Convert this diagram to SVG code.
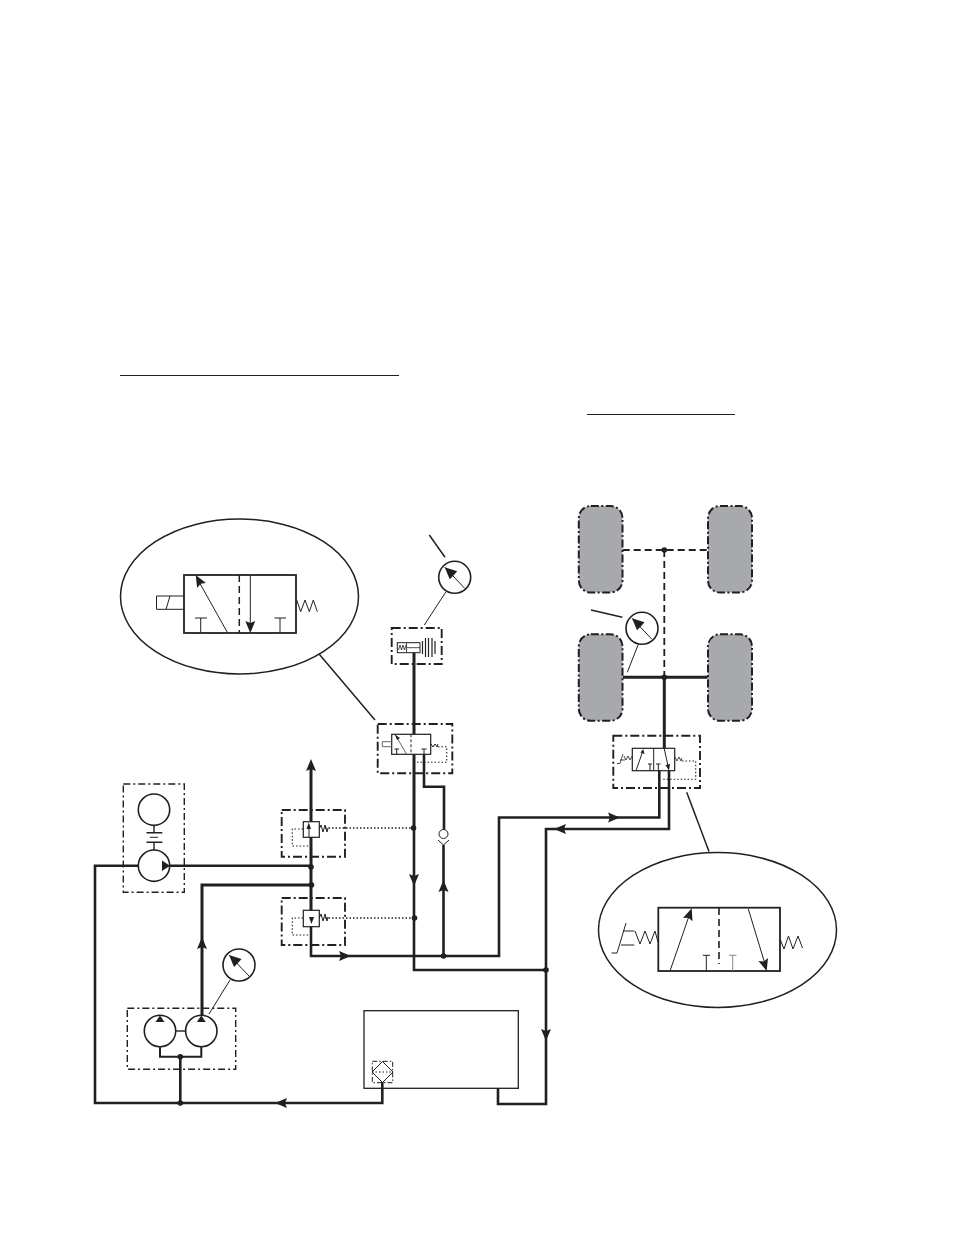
<svg xmlns="http://www.w3.org/2000/svg" width="954" height="1235" viewBox="0 0 954 1235">
<style>
.s{fill:none;stroke:#231f20;stroke-linejoin:miter}
.w{fill:#fff;stroke:#231f20}
.p{fill:none;stroke:#231f20;stroke-width:2.6;stroke-linejoin:miter}
.n{fill:none;stroke:#231f20;stroke-width:1}
.d{fill:none;stroke:#231f20;stroke-width:1.4;stroke-dasharray:1.5 2}
.b{fill:none;stroke:#231f20;stroke-width:1.9;stroke-dasharray:9 3 2 3}
.t{fill:#a7a9ac;stroke:#231f20;stroke-width:2;stroke-dasharray:8 2.5 2 2.5}
.f{fill:#231f20;stroke:none}
</style>
<defs>
<polygon id="ah" points="0,0 -12,-5 -10,0 -12,5" fill="#231f20"/>
<circle id="j" r="2.8" fill="#231f20"/>
<g id="gauge">
<circle r="16" fill="#fff" stroke="#231f20" stroke-width="1.6"/>
<path d="M-10,-10 L10,11" stroke="#231f20" stroke-width="1" fill="none"/>
<polygon points="-10,-10 2.5,-6 -1,-2 -5,2" fill="#231f20"/>
</g>
</defs>

<g id="underlines">
<path class="n" d="M120,375.5H399M587,414.5H735"/>
</g>

<g id="connectors">
<path class="p" d="M138,865.7H95V1103H382.3V1082"/>
<path class="p" d="M170,865.7H311"/>
<path class="p" style="stroke-width:3" d="M202,1015V885H311"/>
<path class="p" style="stroke-width:3" d="M311,768V926"/>
<path class="p" d="M311,926V956H499V817.5H659.3V770"/>
<path class="p" style="stroke-width:3" d="M414,652V830"/>
<path class="p" d="M414,830V970H546"/>
<path class="p" d="M424,754V786.7H444V830"/>
<path class="p" d="M443.5,845V956"/>
<path class="p" d="M669,770V829H546V1104H498V1088"/>
<path class="p" style="stroke-width:2" d="M160,1046.7V1056.7H201.3V1046.7"/>
<path class="p" d="M180.3,1056.7V1103"/>
<path class="p" style="stroke-width:3" d="M664.3,677V748"/>
<path class="p" style="stroke-width:3" d="M622.7,677.3H707.7"/>
<path class="s" style="stroke-width:1.8;stroke-dasharray:7 4" d="M622.7,550H707.7M664.3,550V677"/>
<path class="d" d="M325,828H413M325,918H414"/>
<use href="#ah" transform="translate(311,759) rotate(-90)"/>
<use href="#ah" transform="translate(202,937) rotate(-90)"/>
<use href="#ah" transform="translate(414,886) rotate(90)"/>
<use href="#ah" transform="translate(443.5,880) rotate(-90)"/>
<use href="#ah" transform="translate(351,956)"/>
<use href="#ah" transform="translate(620,817.5)"/>
<use href="#ah" transform="translate(554,829) rotate(180)"/>
<use href="#ah" transform="translate(546,1041) rotate(90)"/>
<use href="#ah" transform="translate(275,1103) rotate(180)"/>
<use href="#j" x="311" y="867"/>
<use href="#j" x="311.5" y="885"/>
<use href="#j" x="413.5" y="828"/>
<use href="#j" x="414.5" y="918"/>
<use href="#j" x="443.5" y="956"/>
<use href="#j" x="546" y="970"/>
<use href="#j" x="180.3" y="1056.7"/>
<use href="#j" x="180.3" y="1103"/>
<use href="#j" x="664.3" y="550"/>
<use href="#j" x="664.3" y="677.3"/>
</g>

<g id="detail-left">
<ellipse class="w" style="stroke-width:1.5" cx="239.5" cy="596.5" rx="119" ry="77.5"/>
<path class="n" style="stroke-width:1.5" d="M319.3,654.3L375,720"/>
<rect class="s" style="stroke-width:1.8" x="184" y="575" width="112" height="58"/>
<path class="s" style="stroke-width:1.5;stroke-dasharray:7 4" d="M239.3,575V633"/>
<path class="n" d="M250.3,575V625"/>
<use href="#ah" transform="translate(250.3,633) rotate(90)"/>
<path class="n" d="M227.7,633L198,580"/>
<use href="#ah" transform="translate(195.7,575) rotate(-119)"/>
<path class="n" d="M200.7,633V618M195,618H207M280,633V618M274.5,618H286"/>
<path class="n" d="M184,596H156.5V609.3H184M166,609.3L170,596"/>
<path class="n" d="M296.7,600L300.7,611.7L305,600L309.3,611.7L313.3,600L317.3,611.7"/>
</g>

<g id="gauge-top">
<use href="#gauge" transform="translate(454.7,577.3)"/>
<path class="s" style="stroke-width:1.5" d="M429.3,535L445,557.3"/>
<path class="n" d="M446,591.7L424.3,625"/>
</g>

<g id="accumulator">
<rect class="b" x="391.7" y="628" width="50" height="36"/>
<rect class="w" style="stroke-width:1" x="397.3" y="642.7" width="22.7" height="10"/>
<path class="n" style="stroke-width:.8" d="M398.5,650L400,645L401.5,650L403,645L404.5,650L406,645M406.5,642.7V652.7M406.5,647.7H420"/>
<path class="s" style="stroke-width:1.2" d="M422.5,641V654M425.5,638V657M428.5,638V657M432,638V657M435,641V654"/>
</g>

<g id="valve-main">
<rect class="b" x="377.7" y="724" width="74.6" height="49.3"/>
<rect class="w" style="stroke-width:1.2" x="391.7" y="734.3" width="39" height="20"/>
<path class="s" style="stroke-width:1;stroke-dasharray:3 2" d="M411,734.3V754.3"/>
<path class="n" style="stroke:#666" d="M406.7,754.3L395.3,735M382.3,741.7H391.7M382.3,741.7V746.7H391.7"/>
<path class="n" d="M396.7,754V749M394.5,749H399M424,754V749M421.5,749H426.5M431,744L433,747L435,744L437,747L438,744"/>
<polygon class="f" points="395,734.5 400,738 397,740"/>
<path class="d" style="stroke-width:1.1" d="M438,746.7H446.7V762.3H416.7"/>
</g>

<g id="relief-upper">
<rect class="b" x="281.7" y="810" width="63.3" height="46.7"/>
<rect class="w" style="stroke-width:1.2" x="303.3" y="821.7" width="16" height="15.6"/>
<path class="n" d="M309,837.3V827"/>
<polygon class="f" points="308.7,822.5 311,829 306.5,829"/>
<path class="n" d="M319.3,829L321,825L323,832L325,825L327,832L328,828"/>
<path class="d" style="stroke-width:1.1" d="M303,829H292.3V846H311"/>
</g>

<g id="relief-lower">
<rect class="b" x="281.7" y="898" width="63.3" height="47"/>
<rect class="w" style="stroke-width:1.2" x="303.3" y="910.3" width="16" height="16.4"/>
<polygon class="f" points="311.5,924 309,917 314,917"/>
<path class="n" d="M319.3,918L321,914L323,921L325,914L327,921L328,917"/>
<path class="d" style="stroke-width:1.1" d="M303,918H292.3V935H311"/>
</g>

<g id="check-valve">
<circle class="w" style="stroke-width:1" cx="443.5" cy="834" r="4.5"/>
<path class="n" d="M438,840L443.5,845L449,840"/>
</g>

<g id="motor">
<rect class="b" style="stroke-width:1.4;stroke-dasharray:7 3 2 3" x="123.3" y="784" width="61" height="108.3"/>
<circle class="w" style="stroke-width:1.6" cx="154" cy="809.7" r="15.7"/>
<circle class="w" style="stroke-width:1.6" cx="154" cy="865.7" r="15.7"/>
<path class="s" style="stroke-width:1.4" d="M154,825.4V832.7M146.5,832.7H162.3M146.5,842.3H162.3M154,842.3V850"/>
<path class="n" d="M150,837.3H158"/>
<polygon class="f" points="170,865.7 162,860.5 162,871"/>
</g>

<g id="pump">
<rect class="b" style="stroke-width:1.4;stroke-dasharray:7 3 2 3" x="127.3" y="1008.3" width="108.4" height="61"/>
<circle class="w" style="stroke-width:1.6" cx="160" cy="1031" r="15.7"/>
<circle class="w" style="stroke-width:1.6" cx="201.3" cy="1031" r="15.7"/>
<path class="n" style="stroke-width:1.4" d="M175.7,1031H185.6"/>
<polygon class="f" points="160,1015.5 155.5,1022 164.5,1022"/>
<polygon class="f" points="201.3,1015.5 196.8,1022 205.8,1022"/>
</g>

<g id="gauge-pump">
<use href="#gauge" transform="translate(239,965)"/>
<path class="n" d="M230,980L209,1014"/>
</g>

<g id="tank">
<rect class="s" style="stroke-width:1.3" x="364" y="1010.7" width="154.3" height="77.6"/>
<rect class="b" style="stroke-width:1;stroke-dasharray:5 2 1.5 2" x="372.3" y="1061.3" width="20.4" height="21.4"/>
<polygon class="s" style="stroke-width:1" points="382.5,1061.5 393,1072 382.5,1082.5 372,1072"/>
<path class="d" style="stroke-width:1" d="M372,1072H393"/>
</g>

<g id="wheels">
<rect class="t" x="578.8" y="506" width="43.7" height="86.5" rx="12"/>
<rect class="t" x="708" y="506" width="44" height="86.5" rx="12"/>
<rect class="t" x="578.8" y="634.3" width="43.7" height="86.5" rx="12"/>
<rect class="t" x="708" y="634.3" width="44" height="86.5" rx="12"/>
</g>

<g id="gauge-wheel">
<use href="#gauge" transform="translate(642,628.3)"/>
<path class="s" style="stroke-width:1.5" d="M591,610L622.3,617.3"/>
<path class="n" d="M638.3,644.3L627.3,672.3"/>
</g>

<g id="valve-right">
<rect class="b" x="613.3" y="735.7" width="86.7" height="52.3"/>
<rect class="w" style="stroke-width:1.2" x="632.3" y="748.3" width="42.4" height="22.4"/>
<path class="n" d="M653.7,748.3V770.7M636,770.7L642.5,752M664.3,749L668,766M650,770.7V764M648,764H652M658.3,770.7V764M656,764H660.5"/>
<polygon class="f" points="643.3,749 644.5,754 640.5,752.5"/>
<polygon class="f" points="669,770.7 665.5,765 670,764"/>
<path class="n" style="stroke-width:.8" d="M624,756L626,760L628,756L630,760L632,756M675,757L677,761L679,757L681,761L682,758M617,763.5H620L623,754M620,760H625"/>
<path class="d" style="stroke-width:1.1" d="M682,761H695.7V779.3H662.3"/>
<path class="n" style="stroke-width:1.5" d="M686.7,792.3L709,851.5"/>
</g>

<g id="detail-right">
<ellipse class="w" style="stroke-width:1.5" cx="717.5" cy="930" rx="119" ry="77.5"/>
<rect class="s" style="stroke-width:1.8" x="658.3" y="907.7" width="121.7" height="63.3"/>
<path class="s" style="stroke-width:1.6;stroke-dasharray:7 4" d="M719,908V964"/>
<path class="n" d="M670,971L689,916"/>
<use href="#ah" transform="translate(691.7,908.3) rotate(-71)"/>
<path class="n" d="M748.3,909L765,964"/>
<use href="#ah" transform="translate(766.7,971) rotate(73)"/>
<path class="n" d="M706.3,971V955.3M702.8,955.3H710"/>
<path class="n" style="stroke:#888" d="M732.7,971V955.3M729,955.3H736.5"/>
<path class="n" d="M635,931L640,944L645,931L650,944L655,931L658,942"/>
<path class="n" d="M780,939L784,949L788.5,936L793,949L798,936L802.5,948"/>
<path class="n" d="M611.5,953H617L626,923M623.3,931H634.3M621,945H634.3"/>
</g>
</svg>
